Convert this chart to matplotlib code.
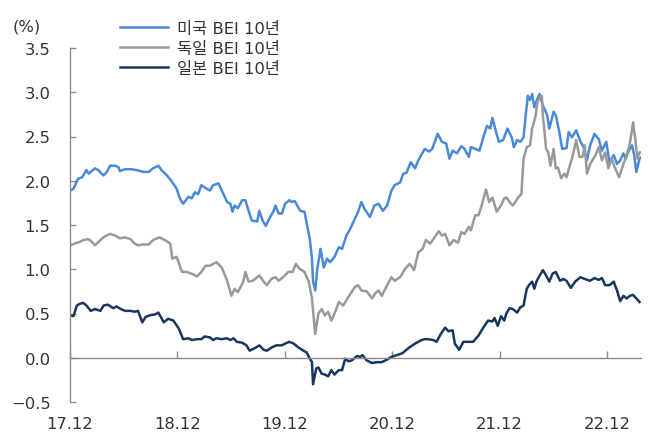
import matplotlib
matplotlib.use("Agg")
import matplotlib.pyplot as plt
from matplotlib.ticker import FixedLocator, FuncFormatter

plt.rcParams['font.family'] = ['DejaVu Sans', 'Noto Sans CJK KR']
plt.rcParams['axes.unicode_minus'] = True

# ---- data (decimal year, %) ----
us_t = [2017.92, 2017.95, 2017.99, 2018.03, 2018.07, 2018.09, 2018.15, 2018.18, 2018.23, 2018.26,
        2018.29, 2018.34, 2018.37, 2018.38, 2018.43, 2018.49, 2018.54, 2018.60, 2018.65, 2018.69,
        2018.74, 2018.77, 2018.82, 2018.86, 2018.91, 2018.94, 2018.97, 2019.02, 2019.05, 2019.08,
        2019.11, 2019.14, 2019.19, 2019.22, 2019.25, 2019.30, 2019.33, 2019.38, 2019.41, 2019.43,
        2019.45, 2019.48, 2019.52, 2019.55, 2019.58, 2019.61, 2019.66, 2019.68, 2019.71, 2019.74,
        2019.78, 2019.81, 2019.83, 2019.86, 2019.89, 2019.92, 2019.96, 2019.98, 2020.01, 2020.06,
        2020.10, 2020.13, 2020.15, 2020.17, 2020.18, 2020.20, 2020.22, 2020.25, 2020.28, 2020.31,
        2020.34, 2020.38, 2020.42, 2020.45, 2020.49, 2020.52, 2020.57, 2020.60, 2020.63, 2020.66,
        2020.71, 2020.75, 2020.79, 2020.83, 2020.87, 2020.91, 2020.94, 2020.99, 2021.02, 2021.05,
        2021.09, 2021.13, 2021.16, 2021.22, 2021.26, 2021.29, 2021.34, 2021.38, 2021.42, 2021.45,
        2021.48, 2021.52, 2021.56, 2021.59, 2021.63, 2021.65, 2021.69, 2021.73, 2021.77, 2021.80,
        2021.83, 2021.85, 2021.88, 2021.91, 2021.95, 2021.99, 2022.03, 2022.05, 2022.08, 2022.11,
        2022.14, 2022.16, 2022.18, 2022.20, 2022.22, 2022.24, 2022.27, 2022.29, 2022.32, 2022.36,
        2022.38, 2022.42, 2022.44, 2022.47, 2022.50, 2022.54, 2022.56, 2022.59, 2022.63, 2022.67,
        2022.70, 2022.73, 2022.76, 2022.80, 2022.84, 2022.87, 2022.91, 2022.94, 2022.98, 2023.01,
        2023.04, 2023.07, 2023.09, 2023.12, 2023.15, 2023.17, 2023.19, 2023.22, 2023.23]
us_v = [1.89, 1.91, 2.02, 2.04, 2.12, 2.08, 2.14, 2.12, 2.06, 2.10,
        2.17, 2.17, 2.15, 2.11, 2.13, 2.13, 2.12, 2.10, 2.10, 2.14,
        2.17, 2.12, 2.06, 2.00, 1.91, 1.80, 1.74, 1.82, 1.80, 1.87,
        1.85, 1.95, 1.91, 1.89, 1.95, 1.97, 1.89, 1.76, 1.74, 1.65,
        1.72, 1.69, 1.78, 1.78, 1.66, 1.55, 1.54, 1.66, 1.55, 1.49,
        1.59, 1.65, 1.72, 1.63, 1.63, 1.74, 1.78, 1.76, 1.77, 1.66,
        1.65, 1.46, 1.34, 1.12, 0.86, 0.76, 1.01, 1.23, 1.02, 1.12,
        1.08, 1.14, 1.25, 1.23, 1.38, 1.44, 1.57, 1.65, 1.76, 1.68,
        1.59, 1.72, 1.74, 1.66, 1.72, 1.89, 1.95, 1.98, 2.08, 2.09,
        2.21, 2.14, 2.23, 2.36, 2.33, 2.36, 2.53, 2.44, 2.42, 2.25,
        2.34, 2.31, 2.39, 2.36, 2.27, 2.38, 2.36, 2.34, 2.51, 2.62,
        2.59, 2.71, 2.57, 2.44, 2.46, 2.59, 2.49, 2.38, 2.46, 2.44,
        2.49, 2.74, 2.96, 2.91, 2.98, 2.83, 2.93, 2.98, 2.85, 2.74,
        2.59, 2.78, 2.74, 2.57, 2.36, 2.37, 2.55, 2.49, 2.57, 2.44,
        2.38, 2.23, 2.40, 2.53, 2.47, 2.34, 2.44, 2.21, 2.29, 2.19,
        2.23, 2.31, 2.25, 2.34, 2.40, 2.29, 2.10, 2.25, 2.26]

de_t = [2017.92, 2017.96, 2018.01, 2018.04, 2018.09, 2018.12, 2018.15, 2018.20, 2018.24, 2018.29,
        2018.34, 2018.38, 2018.43, 2018.48, 2018.52, 2018.55, 2018.60, 2018.65, 2018.69, 2018.75,
        2018.80, 2018.85, 2018.87, 2018.91, 2018.96, 2019.00, 2019.05, 2019.10, 2019.14, 2019.18,
        2019.22, 2019.28, 2019.33, 2019.38, 2019.42, 2019.45, 2019.48, 2019.53, 2019.55, 2019.58,
        2019.62, 2019.68, 2019.72, 2019.75, 2019.79, 2019.83, 2019.86, 2019.90, 2019.95, 2019.99,
        2020.02, 2020.05, 2020.10, 2020.14, 2020.17, 2020.20, 2020.23, 2020.26, 2020.29, 2020.32,
        2020.35, 2020.39, 2020.42, 2020.46, 2020.49, 2020.57, 2020.60, 2020.63, 2020.68, 2020.73,
        2020.76, 2020.79, 2020.82, 2020.87, 2020.91, 2020.94, 2020.99, 2021.04, 2021.08, 2021.12,
        2021.16, 2021.20, 2021.23, 2021.27, 2021.30, 2021.35, 2021.38, 2021.41, 2021.45, 2021.49,
        2021.53, 2021.56, 2021.59, 2021.63, 2021.65, 2021.69, 2021.72, 2021.75, 2021.79, 2021.82,
        2021.85, 2021.89, 2021.93, 2021.96, 2021.98, 2022.01, 2022.04, 2022.09, 2022.12, 2022.14,
        2022.17, 2022.20, 2022.22, 2022.25, 2022.27, 2022.29, 2022.31, 2022.32, 2022.35, 2022.37,
        2022.39, 2022.42, 2022.44, 2022.46, 2022.49, 2022.52, 2022.54, 2022.57, 2022.60, 2022.63,
        2022.66, 2022.69, 2022.71, 2022.73, 2022.76, 2022.81, 2022.84, 2022.87, 2022.90, 2022.93,
        2022.96, 2022.99, 2023.03, 2023.07, 2023.10, 2023.13, 2023.16, 2023.18, 2023.20, 2023.22,
        2023.23]
de_v = [1.27, 1.29, 1.31, 1.33, 1.34, 1.31, 1.27, 1.33, 1.37, 1.40,
        1.38, 1.35, 1.36, 1.34, 1.29, 1.27, 1.28, 1.28, 1.33, 1.36,
        1.33, 1.29, 1.12, 1.14, 0.97, 0.97, 0.95, 0.92, 0.97, 1.04,
        1.04, 1.08, 1.02, 0.87, 0.70, 0.78, 0.74, 0.86, 0.97, 0.86,
        0.87, 0.93, 0.86, 0.82, 0.89, 0.91, 0.87, 0.91, 0.97, 0.97,
        1.06, 1.01, 0.97, 0.86, 0.67, 0.27, 0.50, 0.55, 0.48, 0.52,
        0.42, 0.53, 0.63, 0.59, 0.65, 0.80, 0.82, 0.76, 0.75, 0.67,
        0.73, 0.76, 0.70, 0.82, 0.91, 0.87, 0.91, 1.01, 1.06, 0.99,
        1.19, 1.23, 1.33, 1.29, 1.34, 1.43, 1.38, 1.40, 1.27, 1.33,
        1.30, 1.42, 1.40, 1.48, 1.44, 1.61, 1.61, 1.72, 1.90, 1.76,
        1.81, 1.65, 1.72, 1.80, 1.81, 1.76, 1.72, 1.81, 1.85, 2.25,
        2.38, 2.40, 2.59, 2.72, 2.89, 2.94, 2.96, 2.74, 2.36, 2.32,
        2.17, 2.36, 2.14, 2.15, 2.03, 2.08, 2.04, 2.17, 2.29, 2.46,
        2.27, 2.27, 2.40, 2.08, 2.19, 2.29, 2.38, 2.23, 2.32, 2.14,
        2.25, 2.15, 2.04, 2.19, 2.29, 2.42, 2.66, 2.47, 2.25, 2.32,
        2.32]

jp_t = [2017.92, 2017.95, 2017.98, 2018.01, 2018.04, 2018.07, 2018.11, 2018.15, 2018.20, 2018.23,
        2018.27, 2018.32, 2018.35, 2018.39, 2018.43, 2018.48, 2018.52, 2018.55, 2018.59, 2018.62,
        2018.66, 2018.71, 2018.74, 2018.79, 2018.83, 2018.88, 2018.93, 2018.97, 2019.02, 2019.05,
        2019.10, 2019.14, 2019.17, 2019.22, 2019.25, 2019.28, 2019.33, 2019.38, 2019.41, 2019.44,
        2019.47, 2019.52, 2019.56, 2019.59, 2019.64, 2019.68, 2019.72, 2019.75, 2019.80, 2019.84,
        2019.89, 2019.92, 2019.96, 2020.00, 2020.04, 2020.09, 2020.12, 2020.15, 2020.17, 2020.18,
        2020.21, 2020.23, 2020.26, 2020.29, 2020.32, 2020.35, 2020.38, 2020.42, 2020.45, 2020.48,
        2020.51, 2020.54, 2020.59, 2020.62, 2020.64, 2020.68, 2020.73, 2020.77, 2020.82, 2020.87,
        2020.91, 2020.96, 2021.01, 2021.04, 2021.08, 2021.13, 2021.16, 2021.19, 2021.22, 2021.25,
        2021.30, 2021.33, 2021.37, 2021.41, 2021.44, 2021.48, 2021.50, 2021.54, 2021.58, 2021.63,
        2021.67, 2021.72, 2021.77, 2021.81, 2021.85, 2021.87, 2021.90, 2021.93, 2021.96, 2021.98,
        2022.01, 2022.04, 2022.08, 2022.11, 2022.14, 2022.17, 2022.19, 2022.22, 2022.24, 2022.26,
        2022.29, 2022.32, 2022.35, 2022.38, 2022.41, 2022.44, 2022.48, 2022.51, 2022.54, 2022.58,
        2022.62, 2022.67, 2022.71, 2022.76, 2022.80, 2022.84, 2022.87, 2022.90, 2022.94, 2022.98,
        2023.01, 2023.04, 2023.07, 2023.10, 2023.13, 2023.16, 2023.19, 2023.22]
jp_v = [0.48, 0.47, 0.59, 0.61, 0.62, 0.59, 0.53, 0.55, 0.53, 0.59,
        0.60, 0.56, 0.58, 0.55, 0.53, 0.53, 0.52, 0.53, 0.40, 0.46,
        0.48, 0.49, 0.51, 0.40, 0.44, 0.42, 0.33, 0.21, 0.22, 0.20,
        0.21, 0.21, 0.24, 0.23, 0.20, 0.22, 0.21, 0.22, 0.20, 0.22,
        0.18, 0.17, 0.14, 0.08, 0.11, 0.14, 0.09, 0.08, 0.12, 0.14,
        0.14, 0.16, 0.18, 0.16, 0.12, 0.08, 0.06, -0.01, -0.05, -0.30,
        -0.12, -0.11, -0.18, -0.19, -0.21, -0.14, -0.19, -0.14, -0.14, -0.01,
        -0.04, -0.03, 0.02, 0.01, 0.03, -0.03, -0.06, -0.05, -0.05, -0.02,
        0.01, 0.03, 0.05, 0.08, 0.12, 0.16, 0.18, 0.20, 0.21, 0.21,
        0.20, 0.18, 0.27, 0.34, 0.30, 0.31, 0.16, 0.09, 0.18, 0.18,
        0.18, 0.25, 0.35, 0.42, 0.41, 0.45, 0.36, 0.47, 0.42, 0.50,
        0.56, 0.55, 0.51, 0.57, 0.59, 0.78, 0.82, 0.86, 0.78, 0.86,
        0.93, 0.99, 0.93, 0.86, 0.95, 0.97, 0.87, 0.89, 0.87, 0.79,
        0.86, 0.91, 0.89, 0.87, 0.90, 0.88, 0.90, 0.82, 0.82, 0.86,
        0.76, 0.64, 0.70, 0.67, 0.70, 0.71, 0.67, 0.63]

series_labels = ['미국 BEI 10년', '독일 BEI 10년', '일본 BEI 10년']
x_tick_pos = [2017.917, 2018.917, 2019.917, 2020.917, 2021.917, 2022.917]
x_tick_labels = ['17.12', '18.12', '19.12', '20.12', '21.12', '22.12']
y_ticks = [-0.5, 0.0, 0.5, 1.0, 1.5, 2.0, 2.5, 3.0, 3.5]

colors = ['#4a88d8', '#999999', '#17375e']
axis_col = '#8c8c8c'
text_col = '#333333'

fig = plt.figure(figsize=(6.5, 4.39), dpi=100)
ax = fig.add_axes([70/650, 1-403/439, (641-70)/650, (403-49)/439])

ax.plot(us_t, us_v, color=colors[0], lw=1.8, label=series_labels[0])
ax.plot(de_t, de_v, color=colors[1], lw=1.8, label=series_labels[1])
ax.plot(jp_t, jp_v, color=colors[2], lw=1.8, label=series_labels[2])

ax.set_xlim(2017.917, 2017.917 + (641-70)/107.4)
ax.set_ylim(-0.5, 3.5)

for s in ['top', 'right']:
    ax.spines[s].set_visible(False)
ax.spines['left'].set_color(axis_col)
ax.spines['bottom'].set_color(axis_col)
ax.spines['bottom'].set_position(('data', 0))
ax.spines['left'].set_linewidth(1.0)
ax.spines['bottom'].set_linewidth(1.0)

ax.xaxis.set_major_locator(FixedLocator(x_tick_pos))
ax.set_xticklabels(x_tick_labels)
ax.yaxis.set_major_locator(FixedLocator(y_ticks))
ax.yaxis.set_major_formatter(FuncFormatter(lambda v, p: f"{v:.1f}".replace('-', '\u2212')))

ax.tick_params(axis='x', direction='in', length=5, color=axis_col, width=1,
               labelsize=11.8, labelcolor=text_col, pad=42)
ax.tick_params(axis='y', direction='in', length=4, color=axis_col, width=1,
               labelsize=11.8, labelcolor=text_col, pad=14)

fig.text(13/650, 1-27/439, '(%)', fontsize=11.8, color=text_col, va='center', ha='left')

leg = fig.legend(loc='upper left', bbox_to_anchor=(120/650, 1-22/439), frameon=False,
                 fontsize=11.8, handlelength=2.95, handletextpad=0.5, labelspacing=0.3,
                 borderpad=0, borderaxespad=0)
for t in leg.get_texts():
    t.set_color(text_col)

fig.savefig('out.png', dpi=100)
